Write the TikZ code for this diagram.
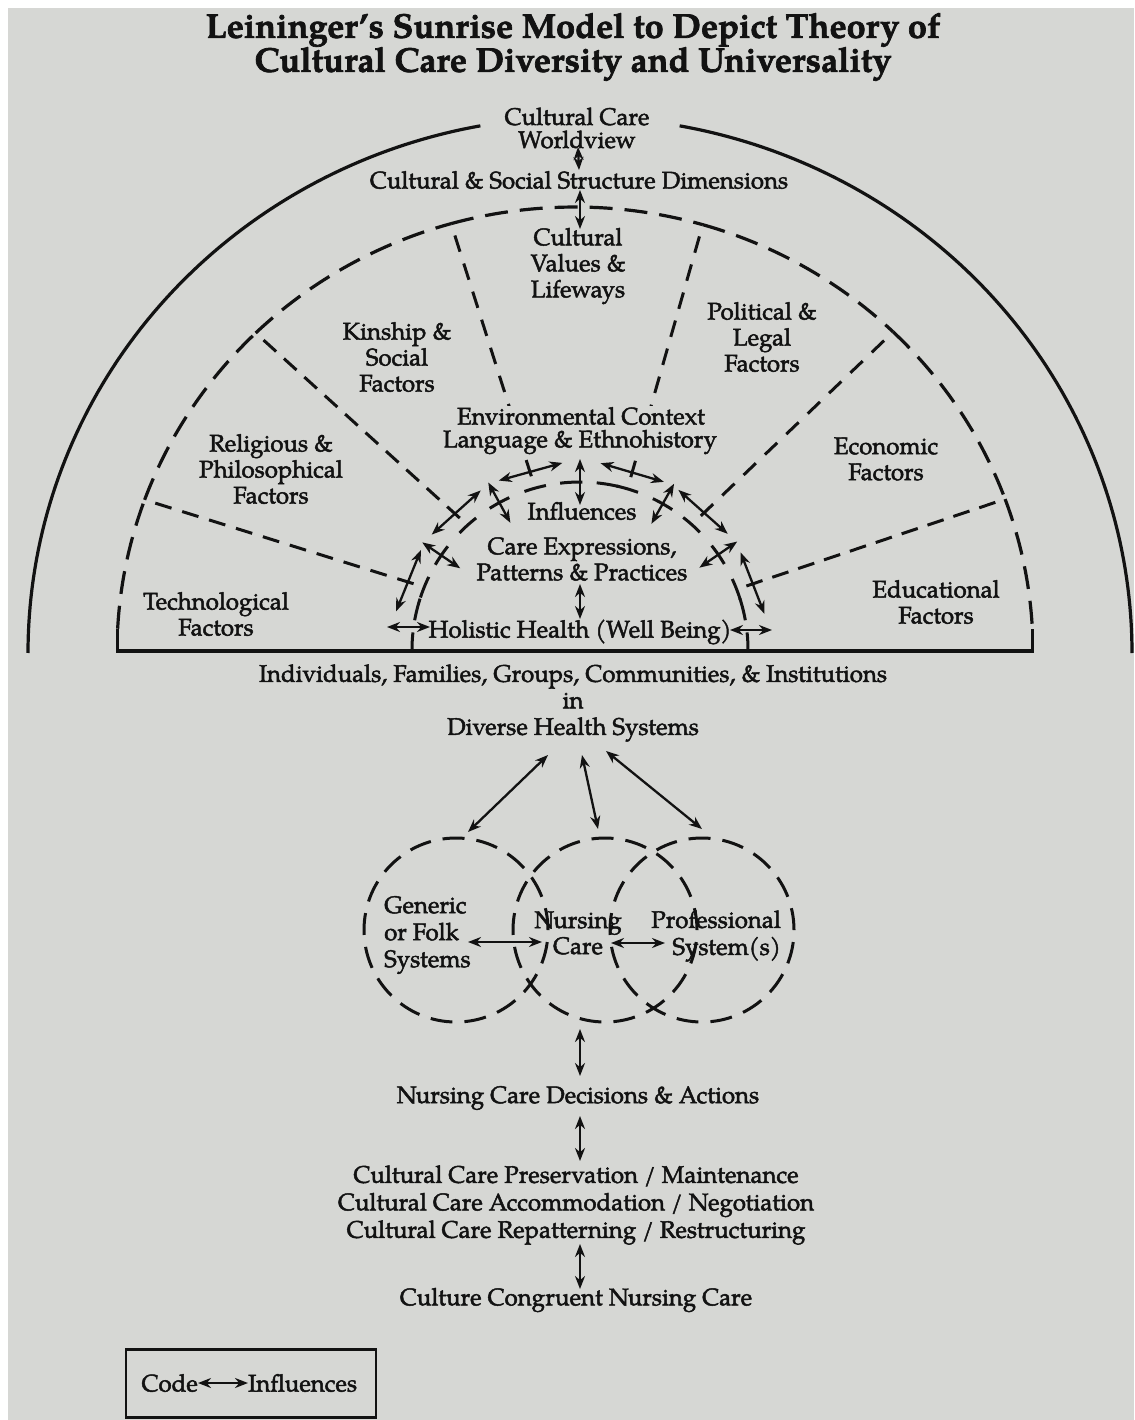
\documentclass[tikz,border=0pt]{standalone}
\usepackage{fontspec}
\setmainfont[FakeBold=2]{TeX Gyre Pagella}
\usetikzlibrary{arrows.meta,calc,decorations}
\definecolor{pagecol}{RGB}{214,215,212}
\definecolor{ink}{RGB}{18,18,18}
\tikzset{
  lbl/.style={font=\fontsize{24}{26}\selectfont, align=center, inner sep=0pt, text=ink},
  ttl/.style={font=\bfseries\fontsize{34.3}{34}\selectfont, align=center, inner sep=0pt, text=ink},
  solidln/.style={draw=ink, line width=3.2pt},
  dasharc/.style={draw=ink, line width=3.2pt, dash pattern=on 23pt off 12pt},
  inarc/.style={draw=ink, line width=3pt},
  divider/.style={draw=ink, line width=3pt, dash pattern=on 17pt off 10pt, dash expand off},
  circ/.style={draw=ink, line width=3pt, dash pattern=on 22pt off 12pt},
  infl/.style={draw=ink, line width=2.3pt, {Stealth[length=13pt,width=10pt]}-{Stealth[length=13pt,width=10pt]}},
}
\begin{document}
\begin{tikzpicture}[x=1pt,y=-1pt]
\useasboundingbox (0,0) rectangle (1134,1420);
\fill[pagecol] (0,0) rectangle (1134,1420);
\fill[white] (0,0) rectangle (8,1420);
\fill[white] (0,0) rectangle (1134,8);

% outer solid arc (gap at top for Worldview)
\draw[solidln] plot[domain=0:79.6, samples=80] ({580+552*cos(\x)},{653-536*sin(\x)});
\draw[solidln] plot[domain=100.4:180, samples=80] ({580+552*cos(\x)},{653-536*sin(\x)});

% dashed arc of the sectors, in pieces between the dividers
\foreach \sa/\sb in {177/160, 160/134.2, 134.2/105.7, 105.7/73.8, 73.8/46, 46/20.1, 20.1/3} {
  \draw[dasharc] plot[domain=\sa:\sb, samples=30] ({575+458*cos(\x)},{652-445*sin(\x)});
}
% base line with feet
\coordinate (footL) at ({575+458*cos(177)},{652-445*sin(177)});
\coordinate (footR) at ({575+458*cos(3)},{652-445*sin(3)});
\draw[solidln] (footL) -- (footL |- 0,651) -- (footR |- 0,651) -- (footR);

% inner dashed arc (care expressions)
\foreach \c in {14,21.2,34.6,48.3,60.5,73.6,80.5,93,105.5,118.7,132,145.7,158,166} {
  \pgfmathsetmacro\aa{\c-3.8}
  \pgfmathsetmacro\bb{\c+3.8}
  \draw[inarc] plot[domain=\aa:\bb, samples=6] ({580+168*cos(\x)},{650-168*sin(\x)});
}
\draw[inarc] plot[domain=0:6, samples=5] ({580+168*cos(\x)},{650-168*sin(\x)});
\draw[inarc] plot[domain=174:180, samples=5] ({580+168*cos(\x)},{650-168*sin(\x)});

% dividers between the factors
\foreach \n/\to/\ti in {1/160/158, 2/134.2/132, 3/105.7/105.5, 4/73.8/73.6, 5/46/48.3, 6/20.1/21.2} {
  \coordinate (do\n) at ({575+458*cos(\to)},{652-445*sin(\to)});
  \coordinate (di\n) at ({580+168*cos(\ti)},{650-168*sin(\ti)});
  \draw[divider] (do\n) -- (di\n);
}

% texts
\node[ttl] (title) at (573,47) {Leininger’s Sunrise Model to Depict Theory of\\Cultural Care Diversity and Universality};
\node[lbl, font=\fontsize{24}{23}\selectfont] (ccw) at (577,128) {Cultural Care\\Worldview};
\node[lbl] (csd) at (579,180) {Cultural \& Social Structure Dimensions};
\node[lbl] (cvl) at (578,266) {Cultural\\Values \&\\Lifeways};
\node[lbl] (ksf) at (397,357) {Kinship \&\\Social\\Factors};
\node[lbl] (plf) at (762,337) {Political \&\\Legal\\Factors};
\node[lbl, fill=pagecol, inner sep=1pt] (env) at (581,416) {Environmental Context};
\node[lbl, fill=pagecol, inner sep=1pt] (leh) at (580,442) {Language \& Ethnohistory};
\node[lbl] (rpf) at (271,469) {Religious \&\\Philosophical\\Factors};
\node[lbl] (ecf) at (886,459) {Economic\\Factors};
\node[lbl] (inf) at (582,511) {Influences};
\node[lbl] (cep) at (582,559) {Care Expressions,\\Patterns \& Practices};
\node[lbl] (hh) at (580,632) {Holistic Health (Well Being)};
\node[lbl] (tef) at (216,614) {Technological\\Factors};
\node[lbl] (edf) at (936,602) {Educational\\Factors};
\node[lbl, font=\fontsize{24}{26.5}\selectfont] (ind) at (573,703) {Individuals, Families, Groups, Communities, \& Institutions\\in\\Diverse Health Systems};
\node[lbl, align=left, anchor=west, font=\fontsize{24}{27}\selectfont] (gen) at (384,935) {Generic\\or Folk\\Systems};
\node[lbl] (nur) at (578,933) {Nursing\\Care};
\node[lbl, align=right, anchor=east, font=\fontsize{24}{27}\selectfont] (pro) at (781,936) {Professional\\System(s)};
\node[lbl] (ncd) at (578,1098) {Nursing Care Decisions \& Actions};
\node[lbl, font=\fontsize{24}{27.5}\selectfont] (ccp) at (576,1205) {Cultural Care Preservation / Maintenance\\Cultural Care Accommodation / Negotiation\\Cultural Care Repatterning / Restructuring};
\node[lbl] (ccn) at (576,1300) {Culture Congruent Nursing Care};

% influence arrows across the dividers
\foreach \ti in {158,132,105.5,73.6,48.3,21.2} {
  \draw[infl] ({580+185*cos(\ti)+33*sin(\ti)},{650-185*sin(\ti)+33*cos(\ti)}) -- ({580+185*cos(\ti)-33*sin(\ti)},{650-185*sin(\ti)-33*cos(\ti)});
}
% influence arrows through the inner arc
\foreach \r in {145.7,118.7,90,60.5,34.6} {
  \draw[infl] ({580+145*cos(\r)},{650-145*sin(\r)}) -- ({580+191*cos(\r)},{650-191*sin(\r)});
}
% vertical arrows at the top
\coordinate (w1) at (578,147); \coordinate (w2) at (579,170);
\draw[infl] (w1) -- (w2);
\coordinate (s1) at (580,190); \coordinate (s2) at (580,229);
\draw[infl] (s1) -- (s2);
% care expressions to holistic health
\coordinate (p1) at (580,584); \coordinate (p2) at (580,619);
\draw[infl] (p1) -- (p2);
% holistic health side arrows
\coordinate (hl1) at (387,627); \coordinate (hl2) at (430,627);
\coordinate (hr1) at (730,630); \coordinate (hr2) at (772,630);
\draw[infl] (hl1) -- (hl2);
\draw[infl] (hr1) -- (hr2);

% health systems to the three systems
\coordinate (d1) at (548,755); \coordinate (c1) at (468,832);
\coordinate (d2) at (582,755); \coordinate (c2) at (598,829);
\coordinate (d3) at (606,751); \coordinate (c3) at (702,829);
\draw[infl] (d1) -- (c1);
\draw[infl] (d2) -- (c2);
\draw[infl] (d3) -- (c3);

% three dashed circles
\draw[circ] (456,930) circle[radius=92pt];
\draw[circ] (605,930) circle[radius=92pt];
\draw[circ] (702,930) circle[radius=92pt];
\coordinate (g1) at (468,942); \coordinate (g2) at (542,942);
\coordinate (q1) at (611,943); \coordinate (q2) at (665,943);
\draw[infl] (g1) -- (g2);
\draw[infl] (q1) -- (q2);

% vertical arrows down the page
\coordinate (v1) at (580,1029); \coordinate (v2) at (580,1076);
\coordinate (v3) at (580,1116); \coordinate (v4) at (580,1161);
\coordinate (v5) at (580,1244); \coordinate (v6) at (580,1289);
\draw[infl] (v1) -- (v2);
\draw[infl] (v3) -- (v4);
\draw[infl] (v5) -- (v6);

% code box
\node[draw=ink, line width=2.6pt, minimum width=250pt, minimum height=68pt, inner sep=0pt] (codebox) at (251,1383.5) {};
\node[lbl, anchor=east] (code) at (198,1383) {Code};
\node[lbl, anchor=west] (cinf) at (248,1383) {Influences};
\draw[infl] (code.east) -- (cinf.west);
\end{tikzpicture}
\end{document}
